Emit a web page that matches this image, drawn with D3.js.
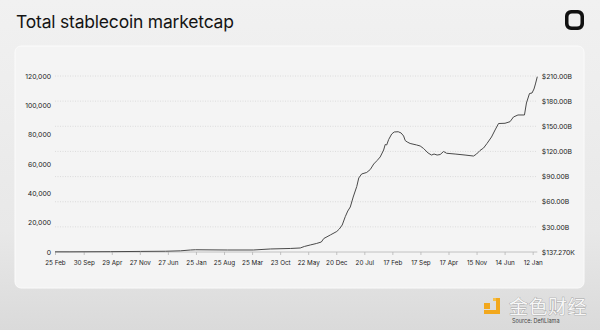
<!DOCTYPE html>
<html>
<head>
<meta charset="utf-8">
<script src="https://cdn.jsdelivr.net/npm/d3@7"></script>
<style>
  html, body { margin: 0; padding: 0; }
  body { width: 600px; height: 330px; overflow: hidden; font-family: Inter, "Noto Sans", sans-serif; }
</style>
</head>
<body>
<svg id="chart" width="600" height="330"></svg>
<script>
// Total stablecoin market cap, $B
const dates = [
  "2015-02-25","2015-06-18","2016-04-20","2016-12-02","2017-06-09","2017-09-30","2017-12-15",
  "2018-01-21","2018-09-20","2019-04-04","2019-08-10","2020-01-08","2020-03-23","2020-04-23",
  "2020-06-07","2020-07-22","2020-08-29","2020-09-17","2020-11-05","2020-12-24","2021-01-12",
  "2021-02-03","2021-02-26","2021-03-17","2021-04-05","2021-04-27","2021-05-24","2021-06-08",
  "2021-06-30","2021-08-07","2021-09-03","2021-09-29","2021-10-25","2021-11-17","2021-12-13",
  "2021-12-25","2022-01-05","2022-01-20","2022-02-12","2022-03-03","2022-04-02","2022-04-24",
  "2022-05-13","2022-05-25","2022-06-09","2022-07-01","2022-08-19","2022-09-15","2022-10-11",
  "2022-11-14","2022-12-10","2022-12-29","2023-01-21","2023-02-13","2023-03-11","2023-04-03",
  "2023-06-06","2023-08-20","2023-10-23","2023-11-15","2023-12-11","2024-01-07","2024-02-02",
  "2024-03-07","2024-04-03","2024-04-29","2024-06-17","2024-07-25","2024-08-20","2024-09-23",
  "2024-11-11","2024-11-26","2024-12-19","2025-01-07","2025-01-22","2025-02-02","2025-02-16"
];
const marketcap = [
  0.2, 0.2, 0.4, 0.7, 0.9, 1.4, 2.4,
  2.7, 2.4, 2.4, 3.6, 4.2, 4.8, 6.6,
  8.4, 10.1, 11.9, 16.1, 20.3, 24.5, 27.4,
  32.2, 42.1, 48.9, 53.7, 65.6, 78.2, 88.3,
  93.1, 94.9, 98.4, 105.0, 109.2, 113.4, 121.7,
  128.3, 127.7, 134.2, 140.8, 143.2, 143.5, 142.0,
  138.4, 133.0, 131.3, 129.5, 127.7, 126.5, 123.5,
  118.1, 115.7, 116.9, 115.7, 116.3, 119.9, 117.8,
  116.9, 115.7, 114.5, 116.9, 121.1, 124.1, 129.5,
  137.2, 145.6, 153.3, 153.6, 155.5, 161.1, 163.5,
  163.5, 177.8, 189.1, 189.7, 194.5, 200.5, 209.2
];

// Axis ticks
const xTickDates = [
  "2015-02-25","2015-09-30","2016-04-29","2016-11-27","2017-06-27","2018-01-25",
  "2018-08-25","2019-03-25","2019-10-23","2020-05-22","2020-12-20","2021-07-20",
  "2022-02-17","2022-09-17","2023-04-17","2023-11-15","2024-06-14","2025-01-12"
];
const leftTicks = [0, 20000, 40000, 60000, 80000, 100000, 120000];
const rightTicks = [0.00013727, 30, 60, 90, 120, 150, 180, 210];
const rightTickLabels = ["$137.270K", "$30.00B", "$60.00B", "$90.00B", "$120.00B", "$150.00B", "$180.00B", "$210.00B"];

const parse = d3.utcParse("%Y-%m-%d");
const series = dates.map((d, i) => ({ date: parse(d), value: marketcap[i] }));

const svg = d3.select("#chart");
const W = 600, H = 330;
const plot = { left: 55, right: 537.3, top: 76, bottom: 252 };

// Page background
const defs = svg.append("defs");
const bg = defs.append("linearGradient").attr("id", "bg").attr("x1", 0).attr("y1", 0).attr("x2", 0).attr("y2", 1);
bg.append("stop").attr("offset", "0%").attr("stop-color", "#f1f1f1");
bg.append("stop").attr("offset", "70%").attr("stop-color", "#e8e8e8");
bg.append("stop").attr("offset", "100%").attr("stop-color", "#dadada");
svg.append("rect").attr("width", W).attr("height", H).attr("fill", "url(#bg)");

// Title
svg.append("text")
  .attr("x", 16).attr("y", 28)
  .attr("font-size", 17.5).attr("fill", "#141414")
  .attr("letter-spacing", -0.2)
  .text("Total stablecoin marketcap");

// Brand mark, top right: thick-edged rounded square
svg.append("path")
  .attr("fill", "#111")
  .attr("fill-rule", "evenodd")
  .attr("d", "M571,10 h7 a6,6 0 0 1 6,6 v8 a6,6 0 0 1 -6,6 h-7 a6,6 0 0 1 -6,-6 v-8 a6,6 0 0 1 6,-6 z" +
             "M572,13.5 h5 a3.5,3.5 0 0 1 3.5,3.5 v6 a3.5,3.5 0 0 1 -3.5,3.5 h-5 a3.5,3.5 0 0 1 -3.5,-3.5 v-6 a3.5,3.5 0 0 1 3.5,-3.5 z");

// Chart card
svg.append("rect")
  .attr("x", 15).attr("y", 46).attr("width", 569).attr("height", 242).attr("rx", 6)
  .attr("fill", "#f4f4f4").attr("stroke", "#fbfbfb").attr("stroke-width", 1);

// Scales
const x = d3.scaleUtc()
  .domain([parse(dates[0]), parse(dates[dates.length - 1])])
  .range([plot.left, plot.right]);
const yRight = d3.scaleLinear().domain([0, 210]).range([plot.bottom, plot.top]);
const yLeft = d3.scaleLinear().domain([0, 120000]).range([plot.bottom, plot.top]);

// Dotted gridlines on the $ scale
svg.append("g")
  .selectAll("line")
  .data(rightTicks.slice(1))
  .join("line")
  .attr("x1", plot.left).attr("x2", plot.right)
  .attr("y1", d => yRight(d)).attr("y2", d => yRight(d))
  .attr("stroke", "#d6d6d6").attr("stroke-width", 0.8).attr("stroke-dasharray", "1,1.5");

// Left axis
const gl = svg.append("g").attr("transform", `translate(${plot.left},0)`)
  .call(d3.axisLeft(yLeft).tickValues(leftTicks).tickFormat(d3.format(",")).tickSize(0).tickPadding(4));
gl.select(".domain").remove();
gl.selectAll("text").attr("font-family", "Inter, sans-serif").attr("font-size", 6.8).attr("fill", "#222");

// Right axis
const gr = svg.append("g").attr("transform", `translate(${plot.right},0)`)
  .call(d3.axisRight(yRight).tickValues(rightTicks).tickFormat((d, i) => rightTickLabels[i]).tickSize(0).tickPadding(4.5));
gr.select(".domain").remove();
gr.selectAll("text").attr("font-family", "Inter, sans-serif").attr("font-size", 6.8).attr("fill", "#222");

// Bottom axis
const gx = svg.append("g").attr("transform", `translate(0,${plot.bottom})`)
  .call(d3.axisBottom(x).tickValues(xTickDates.map(parse)).tickFormat(d3.utcFormat("%-d %b")).tickSize(3).tickPadding(6));
gx.select(".domain").attr("stroke", "#b5b5b5").attr("stroke-width", 0.8).attr("d", `M${plot.left},0H${plot.right}`);
gx.selectAll(".tick line").attr("stroke", "#b5b5b5").attr("stroke-width", 0.8);
gx.selectAll("text").attr("font-family", "Inter, sans-serif").attr("font-size", 6.3).attr("fill", "#222");

// Market cap line
svg.append("path")
  .datum(series)
  .attr("fill", "none")
  .attr("stroke", "#4a4a4a")
  .attr("stroke-width", 1)
  .attr("stroke-linejoin", "round")
  .attr("d", d3.line().x(d => x(d.date)).y(d => yRight(d.value)));

// Footer source and publisher mark
svg.append("text").attr("x", 512).attr("y", 323)
  .attr("font-size", 5.5).attr("fill", "#444").text("Source: DefiLlama");
const logo = svg.append("g").attr("fill", "#f2a81d");
logo.append("rect").attr("x", 484).attr("y", 303).attr("width", 6).attr("height", 6);
logo.append("path").attr("d", "M493,298 h7 v16 h-16 v-4 h12 v-12 z");
logo.append("rect").attr("x", 493).attr("y", 298).attr("width", 3).attr("height", 3).attr("fill", "#f5c04a");
svg.append("text").attr("x", 509).attr("y", 314)
  .attr("font-family", "'Noto Sans CJK SC', sans-serif")
  .attr("font-size", 19).attr("fill", "#f7f7f7")
  .attr("stroke", "#9a9a9a").attr("stroke-width", 0.7).attr("paint-order", "stroke")
  .attr("letter-spacing", 0.5)
  .text("金色财经");
</script>
</body>
</html>
